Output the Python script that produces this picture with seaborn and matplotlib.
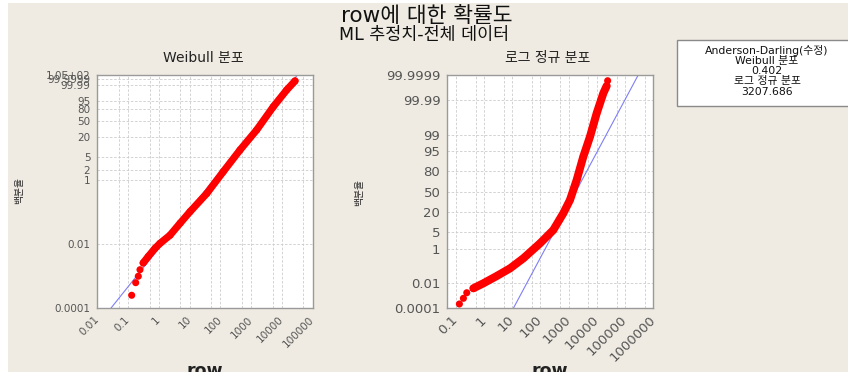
import math
from statistics import NormalDist

import matplotlib
matplotlib.use("Agg")
import matplotlib.pyplot as plt
from matplotlib.patches import Rectangle
from matplotlib.ticker import FixedLocator, NullFormatter
import numpy as np
import pandas as pd
import seaborn as sns

# ---- data: row values with their cumulative percent (plotting positions) ----
weibull_row = [0.131, 0.177, 0.215, 0.244, 0.31, 0.45, 0.75, 1.09, 2.3, 4.9,
               10.3, 36, 124, 434, 1510, 5250, 14300, 26600]
weibull_pct = [0.000255, 0.00063, 0.0010, 0.0016, 0.0026, 0.0041, 0.0074,
               0.0106, 0.019, 0.045, 0.103, 0.38, 1.81, 8.3, 30.6, 85.7,
               99.844, 99.99956]

lognorm_row = [0.134, 0.186, 0.245, 0.42, 0.95, 2.83, 8.4, 24.8, 96.6, 286,
               646, 1114, 1927, 3300, 5700, 9840, 16900, 22200, 24100]
lognorm_pct = [0.000235, 0.00069, 0.0019, 0.0041, 0.0094, 0.0294, 0.089,
               0.33, 1.76, 5.9, 18.9, 36.7, 68.3, 92.28, 98.742, 99.9296,
               99.99694, 99.99917, 99.99969]

# ML fits
weibull_shape = 1.2
weibull_scale = 2750.0
lognorm_mu = 7.49      # location (ln scale)
lognorm_sigma = 1.072  # scale (ln scale)

# goodness of fit
ad_weibull = "0.402"
ad_lognorm = "3207.686"

# axis ticks
weibull_xticks = [0.01, 0.1, 1, 10, 100, 1000, 10000, 100000]
weibull_xlabels = ["0.01", "0.1", "1", "10", "100", "1000", "10000", "100000"]
lognorm_xticks = [0.1, 1, 10, 100, 1000, 10000, 100000, 1000000]
lognorm_xlabels = ["0.1", "1", "10", "100", "1000", "10000", "100000", "1000000"]

weibull_ytick_pct = [0.0001, 0.01, 1, 2, 5, 20, 50, 80, 95, 99.99, 99.9999, 99.9999994]
weibull_ylabels = ["0.0001", "0.01", "1", "2", "5", "20", "50", "80", "95",
                   "99.99", "99.9999", "1.0E+02"]
lognorm_ytick_pct = [0.0001, 0.01, 1, 5, 20, 50, 80, 95, 99, 99.99, 99.9999]
lognorm_ylabels = ["0.0001", "0.01", "1", "5", "20", "50", "80", "95", "99",
                   "99.99", "99.9999"]


def weibull_y(pct):
    p = np.asarray(pct, dtype=float) / 100.0
    return np.log(-np.log1p(-p))


def normal_y(pct):
    nd = NormalDist()
    return np.array([nd.inv_cdf(v / 100.0) for v in np.atleast_1d(pct)])


# ---- style ----
sns.set_style("white")
plt.rcParams["font.family"] = ["DejaVu Sans", "Noto Sans CJK KR"]

W, H = 848, 372
BEIGE = "#EFEBE2"
RED = "#FF0000"
BLUE = "#7F7FF5"
GRID = "#CCCCCC"
TICKTXT = "#555555"

fig = plt.figure(figsize=(W / 100, H / 100), dpi=100, facecolor="white")
fig.patches.append(Rectangle((8 / W, 0), 1, (H - 3) / H, transform=fig.transFigure,
                             facecolor=BEIGE, edgecolor="none", zorder=-10))


def px_axes(x0, y0, x1, y1):
    return fig.add_axes([x0 / W, 1 - y1 / H, (x1 - x0) / W, (y1 - y0) / H])


def style_axes(ax, xticks, xlabels, xminor, yt, ylabels, fs):
    ax.set_facecolor("white")
    ax.set_xscale("log")
    ax.xaxis.set_major_locator(FixedLocator(xticks))
    ax.set_xticklabels(xlabels, rotation=45, ha="right", va="center",
                       rotation_mode="anchor", fontsize=fs, color=TICKTXT)
    ax.xaxis.set_minor_locator(FixedLocator(xminor))
    ax.xaxis.set_minor_formatter(NullFormatter())
    ax.set_yticks(yt)
    ax.set_yticklabels(ylabels, fontsize=fs, color=TICKTXT)
    ax.tick_params(axis="both", which="major", length=3, width=0.8,
                   color="#888888", direction="out", pad=2)
    ax.tick_params(axis="x", which="major", pad=4)
    ax.tick_params(axis="x", which="minor", length=0)
    ax.grid(True, which="both", axis="x", color=GRID, lw=0.6, ls=(0, (3, 2)))
    ax.grid(True, which="major", axis="y", color=GRID, lw=0.6, ls=(0, (3, 2)))
    for s in ax.spines.values():
        s.set_color("#9A9A9A")
        s.set_linewidth(1.0)
    ax.set_xlabel("")
    ax.set_ylabel("")


# ---- Weibull panel ----
ax1 = px_axes(97.3, 75, 312.7, 308.3)
w_y = weibull_y(weibull_pct)
w_band = 4
w_xlim = (0.01, 100000)
w_ylim = (weibull_y(0.0001), weibull_y(99.9999994))

fit_x = np.array(w_xlim)
fit_w = pd.DataFrame({"x": fit_x,
                      "y": weibull_shape * (np.log(fit_x) - math.log(weibull_scale))})
sns.lineplot(data=fit_w, x="x", y="y", ax=ax1, color=BLUE, lw=0.8, zorder=2)
sns.lineplot(x=weibull_row[w_band:], y=w_y[w_band:], ax=ax1, color=RED, lw=5.2,
             sort=False, estimator=None, zorder=3, solid_capstyle="round",
             solid_joinstyle="round")
sns.scatterplot(x=weibull_row, y=w_y, ax=ax1, color=RED, s=26, edgecolor="none",
                zorder=4)
minor_w = [0.05, 0.5, 5, 50, 500, 5000, 50000]
style_axes(ax1, weibull_xticks, weibull_xlabels, minor_w,
           weibull_y(weibull_ytick_pct), weibull_ylabels, 7.5)
ax1.set_xlim(*w_xlim)
ax1.set_ylim(*w_ylim)

# ---- lognormal panel ----
ax2 = px_axes(447.3, 75, 653.3, 308.3)
l_y = normal_y(lognorm_pct)
l_band = (3, 18)
l_xlim = (0.05, 1000000)
l_ylim = (normal_y([0.0001])[0], normal_y([99.9999])[0])

fit_x2 = np.array(l_xlim)
fit_l = pd.DataFrame({"x": fit_x2,
                      "y": (np.log(fit_x2) - lognorm_mu) / lognorm_sigma})
sns.lineplot(data=fit_l, x="x", y="y", ax=ax2, color=BLUE, lw=0.8, zorder=2)
sns.lineplot(x=lognorm_row[l_band[0]:l_band[1]], y=l_y[l_band[0]:l_band[1]], ax=ax2,
             color=RED, lw=5.8, sort=False, estimator=None, zorder=3,
             solid_capstyle="round", solid_joinstyle="round")
sns.scatterplot(x=lognorm_row, y=l_y, ax=ax2, color=RED, s=26, edgecolor="none",
                zorder=4)
minor_l = [0.5, 5, 50, 500, 5000, 50000, 500000]
style_axes(ax2, lognorm_xticks, lognorm_xlabels, minor_l,
           normal_y(lognorm_ytick_pct), lognorm_ylabels, 9.5)
ax2.set_xlim(*l_xlim)
ax2.set_ylim(*l_ylim)

# ---- titles and labels ----
fig.text(427 / W, 1 - 16 / H, "row에 대한 확률도", ha="center", va="center",
         fontsize=15.5, color="#111111")
fig.text(424 / W, 1 - 35 / H, "ML 추정치-전체 데이터", ha="center", va="center",
         fontsize=12.5, color="#111111")
fig.text(203 / W, 1 - 58 / H, "Weibull 분포", ha="center", va="center",
         fontsize=10, color="#222222")
fig.text(548 / W, 1 - 58 / H, "로그 정규 분포", ha="center", va="center",
         fontsize=10, color="#222222")

for xc, yc in [(19, 190), (359, 192)]:
    fig.text(xc / W, 1 - yc / H, "백분율", rotation=90, ha="center", va="center",
             fontsize=7, color="#222222")
for xc in [205, 550]:
    fig.text(xc / W, (H - 376) / H, "row", ha="center", va="baseline",
             fontsize=12.5, fontweight="bold", color="#222222")

# ---- goodness-of-fit box ----
fig.patches.append(Rectangle((677 / W, 1 - 106 / H), 183 / W, 66 / H,
                             transform=fig.transFigure, facecolor="white",
                             edgecolor="#8A8A8A", lw=1.0, zorder=5))
box_lines = ["Anderson-Darling(수정)", "Weibull 분포", ad_weibull,
             "로그 정규 분포", ad_lognorm]
for i, line in enumerate(box_lines):
    fig.text(767 / W, 1 - (50.5 + 10.3 * i) / H, line, ha="center", va="center",
             fontsize=7.8, color="#111111", zorder=6)

fig.savefig("out.png", dpi=100, facecolor=fig.get_facecolor())
